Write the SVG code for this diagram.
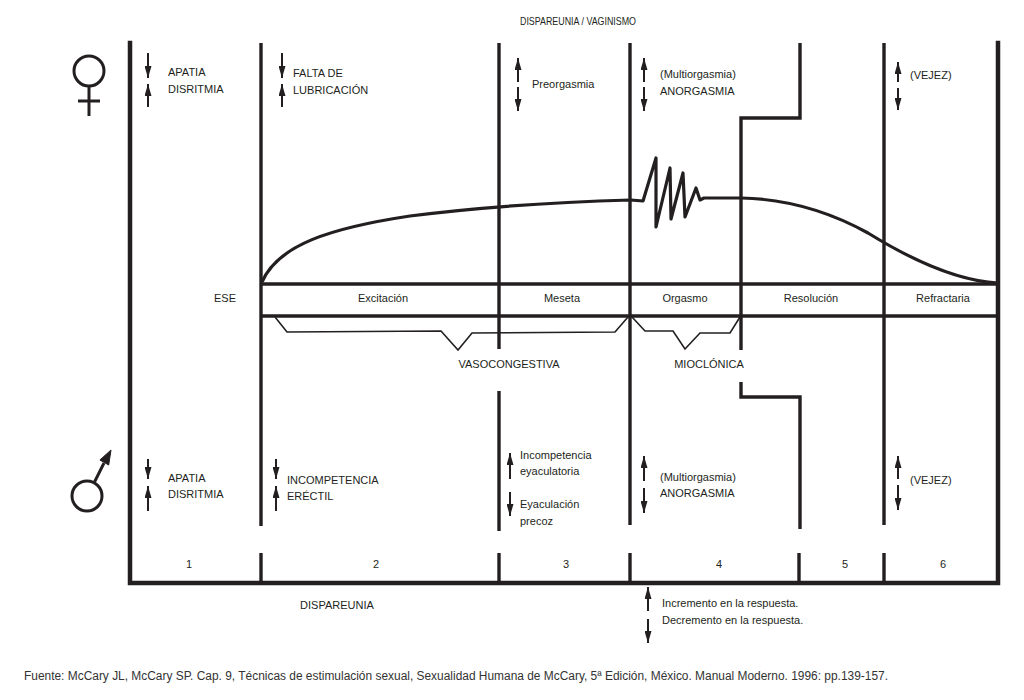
<svg xmlns="http://www.w3.org/2000/svg" width="1024" height="700" viewBox="0 0 1024 700">
<style>
.t{font-family:"Liberation Sans",Arial,sans-serif;font-size:11px;fill:#231f20}
.c{text-anchor:middle}
.frame{stroke:#231f20;stroke-width:4.5;fill:none;stroke-linecap:square}
.v{stroke:#231f20;stroke-width:3.4;fill:none}
.band{stroke:#231f20;stroke-width:3.4;fill:none}
.curve{stroke:#231f20;stroke-width:3.2;fill:none;stroke-linejoin:round}
.br{stroke:#231f20;stroke-width:1.6;fill:none}
.ar{stroke:#231f20;stroke-width:2;marker-end:url(#ah)}
.sym{stroke:#231f20;stroke-width:3;fill:none}
.foot{font-family:"Liberation Sans",Arial,sans-serif;font-size:12px;fill:#333}
</style>
<defs>
<marker id="ah" viewBox="0 0 12 7" refX="12" refY="3.5" markerWidth="12" markerHeight="7" markerUnits="userSpaceOnUse" orient="auto"><path d="M0,0 L12,3.5 L0,7 z" fill="#231f20"/></marker>
</defs>
<rect width="1024" height="700" fill="#fff"/>

<g id="frame">
<path class="frame" d="M130,43 L130,583 L998,583 L998,43"/>
<line class="v" x1="261" y1="553" x2="261" y2="583"/>
<line class="v" x1="499" y1="553" x2="499" y2="583"/>
<line class="v" x1="630" y1="553" x2="630" y2="583"/>
<line class="v" x1="799" y1="553" x2="799" y2="583"/>
<line class="v" x1="884" y1="553" x2="884" y2="583"/>
</g>

<g id="dividers">
<line class="v" x1="261" y1="43" x2="261" y2="526"/>
<line class="v" x1="499" y1="43" x2="499" y2="349"/>
<line class="v" x1="499" y1="391" x2="499" y2="531"/>
<line class="v" x1="630" y1="43" x2="630" y2="525"/>
<path class="v" d="M800,43 L800,118 L741,118 L741,350"/>
<path class="v" d="M741,382 L741,397 L800,397 L800,529"/>
<line class="v" x1="884" y1="43" x2="884" y2="525"/>
</g>

<g id="band">
<line class="band" x1="261" y1="284" x2="998" y2="284"/>
<line class="band" x1="261" y1="316" x2="998" y2="316"/>
<text class="t c" x="225" y="302">ESE</text>
<text class="t c" x="383" y="302" font-size="11.5">Excitación</text>
<text class="t c" x="562" y="302" font-size="11.5">Meseta</text>
<text class="t c" x="685" y="302" font-size="11.5">Orgasmo</text>
<text class="t c" x="811" y="302" font-size="11.5">Resolución</text>
<text class="t c" x="943" y="302" font-size="11.5">Refractaria</text>
</g>

<g id="response-curve">
<path class="curve" d="M262,282 C278,245 330,228 410,216 C480,207 560,202 631,200 L643,201 L656,158 L656,227 L670,168 L671,219 L683,173 L685,217 L696,188 L700,200 L704,198 L741,198 C790,199 830,212 868,233 C915,262 960,281 998,283"/>
</g>

<g id="brackets">
<path class="br" d="M275,317 L287,332 L441,331 L458,350 L472,333 L615,332 L628,317"/>
<path class="br" d="M632,317 L645,331 L673,331 L685,349 L700,333 L730,333 L740,317"/>
<text class="t c" x="509" y="368">VASOCONGESTIVA</text>
<text class="t c" x="709" y="368">MIOCLÓNICA</text>
</g>

<g id="female-symbol">
<circle class="sym" cx="89" cy="71" r="15"/>
<line class="sym" x1="89" y1="86" x2="89" y2="116"/>
<line class="sym" x1="78" y1="101" x2="100" y2="101"/>
</g>

<g id="male-symbol">
<circle class="sym" cx="87" cy="496" r="15"/>
<line class="sym" x1="94" y1="483" x2="104" y2="463"/>
<polygon points="111,450 108.7,465 99.9,460" fill="#231f20" stroke="#231f20" stroke-width="1"/>
</g>

<g id="arrows">
<line class="ar" x1="148" y1="53" x2="148" y2="78"/>
<line class="ar" x1="148" y1="107" x2="148" y2="84"/>
<line class="ar" x1="282" y1="53" x2="282" y2="78"/>
<line class="ar" x1="282" y1="107" x2="282" y2="84"/>
<line class="ar" x1="518" y1="82" x2="518" y2="58"/>
<line class="ar" x1="518" y1="87" x2="518" y2="111"/>
<line class="ar" x1="644" y1="82" x2="644" y2="58"/>
<line class="ar" x1="644" y1="87" x2="644" y2="111"/>
<line class="ar" x1="898" y1="82" x2="898" y2="62"/>
<line class="ar" x1="898" y1="88" x2="898" y2="110"/>

<line class="ar" x1="148" y1="459" x2="148" y2="479"/>
<line class="ar" x1="148" y1="511" x2="148" y2="486"/>
<line class="ar" x1="276" y1="459" x2="276" y2="479"/>
<line class="ar" x1="276" y1="511" x2="276" y2="486"/>
<line class="ar" x1="510" y1="479" x2="510" y2="453"/>
<line class="ar" x1="510" y1="492" x2="510" y2="516"/>
<line class="ar" x1="644" y1="481" x2="644" y2="456"/>
<line class="ar" x1="644" y1="488" x2="644" y2="513"/>
<line class="ar" x1="898" y1="479" x2="898" y2="456"/>
<line class="ar" x1="898" y1="485" x2="898" y2="510"/>

<line class="ar" x1="648" y1="611" x2="648" y2="587"/>
<line class="ar" x1="648" y1="619" x2="648" y2="643"/>
</g>

<g id="labels">
<text class="t c" x="578" y="25" font-size="10" textLength="116" lengthAdjust="spacingAndGlyphs">DISPAREUNIA / VAGINISMO</text>
<text class="t" x="168" y="76">APATIA</text>
<text class="t" x="168" y="93">DISRITMIA</text>
<text class="t" x="293" y="77">FALTA DE</text>
<text class="t" x="293" y="94">LUBRICACIÓN</text>
<text class="t" x="532" y="88" font-size="11.5">Preorgasmia</text>
<text class="t" x="660" y="78" font-size="11.5">(Multiorgasmia)</text>
<text class="t" x="660" y="95">ANORGASMIA</text>
<text class="t" x="910" y="79">(VEJEZ)</text>

<text class="t" x="168" y="482">APATIA</text>
<text class="t" x="168" y="498">DISRITMIA</text>
<text class="t" x="287" y="484">INCOMPETENCIA</text>
<text class="t" x="287" y="500">ERÉCTIL</text>
<text class="t" x="520" y="459" font-size="11.5">Incompetencia</text>
<text class="t" x="520" y="475" font-size="11.5">eyaculatoria</text>
<text class="t" x="520" y="508" font-size="11.5">Eyaculación</text>
<text class="t" x="520" y="525" font-size="11.5">precoz</text>
<text class="t" x="660" y="481" font-size="11.5">(Multiorgasmia)</text>
<text class="t" x="660" y="497">ANORGASMIA</text>
<text class="t" x="910" y="484">(VEJEZ)</text>

<text class="t c" x="189" y="568">1</text>
<text class="t c" x="376" y="568">2</text>
<text class="t c" x="566" y="568">3</text>
<text class="t c" x="719" y="568">4</text>
<text class="t c" x="845" y="568">5</text>
<text class="t c" x="943" y="568">6</text>

<text class="t c" x="337" y="609">DISPAREUNIA</text>
<text class="t" x="662" y="607" font-size="11.5">Incremento en la respuesta.</text>
<text class="t" x="662" y="624" font-size="11.5">Decremento en la respuesta.</text>
</g>

<g id="source">
<text class="foot" x="24" y="680" textLength="864" lengthAdjust="spacingAndGlyphs">Fuente: McCary JL, McCary SP. Cap. 9, Técnicas de estimulación sexual, Sexualidad Humana de McCary, 5ª Edición, México. Manual Moderno. 1996: pp.139-157.</text>
</g>
</svg>
